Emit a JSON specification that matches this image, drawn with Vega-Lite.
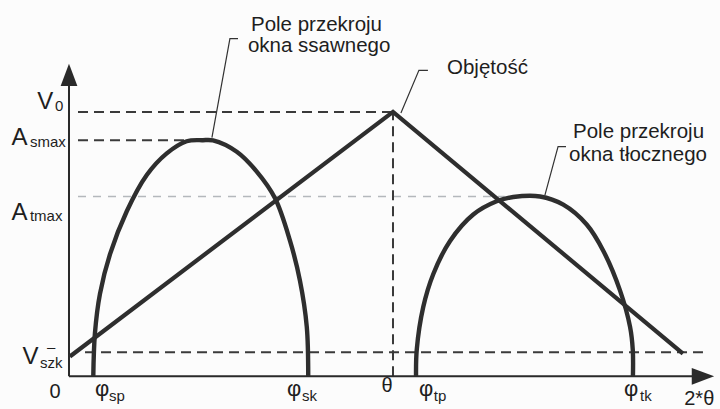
{
  "$schema": "https://vega.github.io/schema/vega-lite/v6.json",
  "width": 720,
  "height": 409,
  "autosize": {"type": "fit", "contains": "padding"},
  "padding": 0,
  "background": "#fcfcfc",
  "config": {
    "view": {"stroke": null},
    "text": {"font": "Liberation Sans", "color": "#1e1e1e", "align": "left", "baseline": "alphabetic"}
  },
  "datasets": {
    "axes": [
      {"name": "y", "x": 0, "x2": 0, "y": 0, "y2": 1.15},
      {"name": "x", "x": 0, "x2": 353.3, "y": 0, "y2": 0}
    ],
    "arrows": [
      {"name": "y", "x": 0, "y": 1.14, "dir": "up"},
      {"name": "x", "x": 352.2, "y": 0, "dir": "right"}
    ],
    "dashed": [
      {"name": "V0", "x": 5, "x2": 180, "y": 1.0, "y2": 1.0},
      {"name": "Asmax", "x": 5, "x2": 67.2, "y": 0.893, "y2": 0.893},
      {"name": "Vszk", "x": 8.9, "x2": 352.2, "y": 0.091, "y2": 0.091},
      {"name": "theta", "x": 180, "x2": 180, "y": 0, "y2": 1.0}
    ],
    "faint": [
      {"name": "Atmax", "x": 5, "x2": 242, "y": 0.68, "y2": 0.68}
    ],
    "curves": [
      {"curve": "ssawne", "i": 0, "x": 13.5, "y": 0},
      {"curve": "ssawne", "i": 1, "x": 14.4, "y": 0.162},
      {"curve": "ssawne", "i": 2, "x": 17.2, "y": 0.312},
      {"curve": "ssawne", "i": 3, "x": 22.8, "y": 0.462},
      {"curve": "ssawne", "i": 4, "x": 32.1, "y": 0.624},
      {"curve": "ssawne", "i": 5, "x": 43.2, "y": 0.761},
      {"curve": "ssawne", "i": 6, "x": 54.3, "y": 0.843},
      {"curve": "ssawne", "i": 7, "x": 65.4, "y": 0.889},
      {"curve": "ssawne", "i": 8, "x": 74.4, "y": 0.893},
      {"curve": "ssawne", "i": 9, "x": 80.0, "y": 0.892},
      {"curve": "ssawne", "i": 10, "x": 93.2, "y": 0.849},
      {"curve": "ssawne", "i": 11, "x": 104.3, "y": 0.774},
      {"curve": "ssawne", "i": 12, "x": 114.4, "y": 0.674},
      {"curve": "ssawne", "i": 13, "x": 122.8, "y": 0.512},
      {"curve": "ssawne", "i": 14, "x": 128.3, "y": 0.362},
      {"curve": "ssawne", "i": 15, "x": 132.1, "y": 0.187},
      {"curve": "ssawne", "i": 16, "x": 132.9, "y": 0},
      {"curve": "tloczne", "i": 0, "x": 192.8, "y": 0},
      {"curve": "tloczne", "i": 1, "x": 193.2, "y": 0.101},
      {"curve": "tloczne", "i": 2, "x": 196.8, "y": 0.262},
      {"curve": "tloczne", "i": 3, "x": 202.4, "y": 0.387},
      {"curve": "tloczne", "i": 4, "x": 211.7, "y": 0.512},
      {"curve": "tloczne", "i": 5, "x": 224.6, "y": 0.612},
      {"curve": "tloczne", "i": 6, "x": 237.6, "y": 0.662},
      {"curve": "tloczne", "i": 7, "x": 246.8, "y": 0.678},
      {"curve": "tloczne", "i": 8, "x": 261.7, "y": 0.68},
      {"curve": "tloczne", "i": 9, "x": 274.6, "y": 0.649},
      {"curve": "tloczne", "i": 10, "x": 287.6, "y": 0.574},
      {"curve": "tloczne", "i": 11, "x": 296.8, "y": 0.475},
      {"curve": "tloczne", "i": 12, "x": 306.1, "y": 0.325},
      {"curve": "tloczne", "i": 13, "x": 311.7, "y": 0.187},
      {"curve": "tloczne", "i": 14, "x": 313.2, "y": 0.101},
      {"curve": "tloczne", "i": 15, "x": 313.3, "y": 0}
    ],
    "volume": [
      {"i": 0, "x": 0.5, "y": 0.075},
      {"i": 1, "x": 180, "y": 1.0},
      {"i": 2, "x": 341.1, "y": 0.086}
    ],
    "leaders": [
      {"name": "ssawne", "i": 0, "x": 93.9, "y": 1.277},
      {"name": "ssawne", "i": 1, "x": 89.4, "y": 1.277},
      {"name": "ssawne", "i": 2, "x": 79.4, "y": 0.903},
      {"name": "objetosc", "i": 0, "x": 199.4, "y": 1.157},
      {"name": "objetosc", "i": 1, "x": 194.4, "y": 1.157},
      {"name": "objetosc", "i": 2, "x": 184.4, "y": 0.996},
      {"name": "tloczne", "i": 0, "x": 276.1, "y": 0.869},
      {"name": "tloczne", "i": 1, "x": 271.7, "y": 0.869},
      {"name": "tloczne", "i": 2, "x": 264.4, "y": 0.685}
    ],
    "captions": [
      {"t": "Pole przekroju", "x": 101.1, "y": 1.307},
      {"t": "okna ssawnego", "x": 99.4, "y": 1.225},
      {"t": "Objętość", "x": 210, "y": 1.142},
      {"t": "Pole przekroju", "x": 280, "y": 0.903},
      {"t": "okna tłocznego", "x": 277.8, "y": 0.816}
    ],
    "bigSymbols": [
      {"t": "V", "x": -17.6, "y": 1.011},
      {"t": "A", "x": -31.9, "y": 0.873},
      {"t": "A", "x": -31.9, "y": 0.592},
      {"t": "V", "x": -25.9, "y": 0.045}
    ],
    "phis": [
      {"t": "φ", "x": 14.4, "y": -0.073},
      {"t": "φ", "x": 121.1, "y": -0.073},
      {"t": "φ", "x": 194.4, "y": -0.073},
      {"t": "φ", "x": 308.3, "y": -0.073}
    ],
    "symbols": [
      {"t": "0", "x": -10.8, "y": -0.084},
      {"t": "θ", "x": 173.6, "y": -0.058},
      {"t": "2*θ", "x": 341.8, "y": -0.107}
    ],
    "subscripts": [
      {"t": "0", "x": -7.8, "y": 1.004},
      {"t": "smax", "x": -21.7, "y": 0.869},
      {"t": "tmax", "x": -21.7, "y": 0.588},
      {"t": "szk", "x": -16.1, "y": 0.03},
      {"t": "–", "x": -12.2, "y": 0.09},
      {"t": "sp", "x": 22.2, "y": -0.094},
      {"t": "sk", "x": 129.4, "y": -0.094},
      {"t": "tp", "x": 202.7, "y": -0.094},
      {"t": "tk", "x": 317.2, "y": -0.094}
    ]
  },
  "encoding": {
    "x": {"field": "x", "type": "quantitative", "axis": null,
          "scale": {"domain": [-38.333, 361.667], "nice": false, "zero": false}},
    "y": {"field": "y", "type": "quantitative", "axis": null,
          "scale": {"domain": [-0.1086, 1.4232], "nice": false, "zero": false}}
  },
  "layer": [
    {
      "data": {"name": "faint"},
      "mark": {"type": "rule", "color": "#b4b8bc", "strokeWidth": 1.5, "strokeDash": [8, 7]},
      "encoding": {"x2": {"field": "x2"}, "y2": {"field": "y2"}}
    },
    {
      "data": {"name": "dashed"},
      "mark": {"type": "rule", "color": "#3a3a3a", "strokeWidth": 2, "strokeDash": [10, 6]},
      "encoding": {"x2": {"field": "x2"}, "y2": {"field": "y2"}}
    },
    {
      "data": {"name": "axes"},
      "mark": {"type": "rule", "color": "#2a2a2a", "strokeWidth": 2},
      "encoding": {"x2": {"field": "x2"}, "y2": {"field": "y2"}}
    },
    {
      "data": {"name": "arrows"},
      "transform": [{"filter": "datum.dir === 'up'"}],
      "mark": {"type": "point", "filled": true, "opacity": 1, "color": "#2a2a2a", "size": 500,
               "shape": "M0,-1L0.75,1L-0.75,1Z"}
    },
    {
      "data": {"name": "arrows"},
      "transform": [{"filter": "datum.dir === 'right'"}],
      "mark": {"type": "point", "filled": true, "opacity": 1, "color": "#2a2a2a", "size": 500,
               "shape": "M1,0L-1,0.75L-1,-0.75Z"}
    },
    {
      "data": {"name": "leaders"},
      "mark": {"type": "line", "color": "#333333", "strokeWidth": 1.2},
      "encoding": {"detail": {"field": "name"}, "order": {"field": "i"}}
    },
    {
      "data": {"name": "curves"},
      "mark": {"type": "line", "color": "#2e2e2e", "strokeWidth": 4.4, "interpolate": "catmull-rom", "strokeCap": "butt"},
      "encoding": {"detail": {"field": "curve"}, "order": {"field": "i"}}
    },
    {
      "data": {"name": "volume"},
      "mark": {"type": "line", "color": "#2e2e2e", "strokeWidth": 4.2, "strokeJoin": "miter", "strokeCap": "butt"},
      "encoding": {"order": {"field": "i"}}
    },
    {
      "data": {"name": "captions"},
      "mark": {"type": "text", "fontSize": 20.5},
      "encoding": {"text": {"field": "t"}}
    },
    {
      "data": {"name": "bigSymbols"},
      "mark": {"type": "text", "fontSize": 24},
      "encoding": {"text": {"field": "t"}}
    },
    {
      "data": {"name": "phis"},
      "mark": {"type": "text", "fontSize": 22},
      "encoding": {"text": {"field": "t"}}
    },
    {
      "data": {"name": "symbols"},
      "mark": {"type": "text", "fontSize": 20},
      "encoding": {"text": {"field": "t"}}
    },
    {
      "data": {"name": "subscripts"},
      "mark": {"type": "text", "fontSize": 15},
      "encoding": {"text": {"field": "t"}}
    }
  ]
}
